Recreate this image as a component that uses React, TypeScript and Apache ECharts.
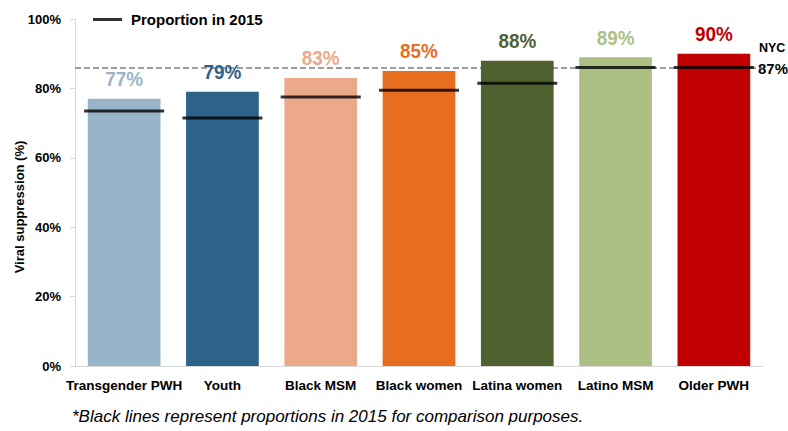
import React, { useEffect, useRef } from "react";
import * as echarts from "echarts";

const categories = ["Transgender PWH", "Youth", "Black MSM", "Black women", "Latina women", "Latino MSM", "Older PWH"];
const values2023 = [77, 79, 83, 85, 88, 89, 90];
const values2015 = [73.5, 71.5, 77.5, 79.5, 81.5, 86, 86];
const barColors = ["#98b4c8", "#2e6389", "#eca98a", "#e76e1e", "#4f612e", "#adc084", "#c00000"];
const nycValue = 86;
const nycLabelTop = "NYC";
const nycLabelValue = "87%";
const legendName = "Proportion in 2015";
const yAxisTitle = "Viral suppression (%)";
const footnote = "*Black lines represent proportions in 2015 for comparison purposes.";

const SANS = "'Liberation Sans', Arial, sans-serif";

export default function App() {
  const ref = useRef<HTMLDivElement>(null);
  useEffect(() => {
    if (!ref.current) return;
    const chart = echarts.init(ref.current, null, { renderer: "svg" });
    chart.setOption({
      animation: false,
      grid: { left: 75, right: 25, top: 19, bottom: 65 },
      legend: {
        left: 88,
        top: 7,
        itemWidth: 29,
        itemHeight: 3,
        data: [{ name: legendName, icon: "rect" }],
        textStyle: { fontFamily: SANS, fontWeight: "bold", fontSize: 15, color: "#000", padding: [0, 0, 0, 4] },
      },
      xAxis: {
        type: "category",
        data: categories,
        axisLine: { lineStyle: { color: "#d9d9d9", width: 1 } },
        axisTick: { show: false },
        axisLabel: { interval: 0, margin: 12, fontFamily: SANS, fontWeight: "bold", fontSize: 13.5, color: "#000" },
      },
      yAxis: {
        type: "value",
        min: 0,
        max: 100,
        interval: 20,
        axisLine: { show: true, lineStyle: { color: "#d9d9d9" } },
        axisTick: { show: true, length: 5, lineStyle: { color: "#d9d9d9" } },
        splitLine: { show: false },
        axisLabel: { formatter: "{value}%", margin: 14, fontFamily: SANS, fontWeight: "bold", fontSize: 13, color: "#000" },
      },
      graphic: [
        {
          type: "text",
          x: 19,
          y: 207,
          rotation: Math.PI / 2,
          style: { text: yAxisTitle, fontFamily: SANS, fontWeight: "bold", fontSize: 13, fill: "#000", align: "center", verticalAlign: "middle" },
        },
        {
          type: "text",
          x: 72,
          y: 416,
          style: { text: footnote, fontFamily: SANS, fontStyle: "italic", fontSize: 17, fill: "#000", align: "left", verticalAlign: "middle" },
        },
        {
          type: "text",
          x: 759,
          y: 48,
          style: { text: nycLabelTop, fontFamily: SANS, fontWeight: "bold", fontSize: 12.5, fill: "#000", align: "left", verticalAlign: "middle" },
        },
        {
          type: "text",
          x: 758,
          y: 68,
          style: { text: nycLabelValue, fontFamily: SANS, fontWeight: "bold", fontSize: 15, fill: "#000", align: "left", verticalAlign: "middle" },
        },
      ],
      series: [
        {
          type: "line",
          data: [],
          z: 1,
          markLine: {
            silent: true,
            symbol: "none",
            z: 1,
            lineStyle: { type: "dashed", color: "#7f7f7f", width: 1.5 },
            label: { show: false },
            data: [{ yAxis: nycValue }],
          },
        },
        {
          type: "bar",
          z: 2,
          barWidth: "74%",
          data: values2023.map((v, i) => ({ value: v, itemStyle: { color: barColors[i] } })),
        },
        {
          type: "custom",
          z: 4,
          silent: true,
          data: values2023.map((v, i) => [i, v]),
          renderItem: (params: any, api: any) => {
            const pt = api.coord([api.value(0), api.value(1)]);
            return {
              type: "text",
              x: pt[0],
              y: pt[1] - 20,
              scaleX: 0.9,
              style: {
                text: api.value(1) + "%",
                fill: barColors[params.dataIndex],
                fontFamily: SANS,
                fontWeight: "bold",
                fontSize: 21,
                align: "center",
                verticalAlign: "middle",
              },
            };
          },
        },
        {
          type: "scatter",
          name: legendName,
          z: 3,
          symbol: "rect",
          symbolSize: [80, 3],
          itemStyle: { color: "#000" },
          data: values2015,
        },
      ],
    });
    return () => chart.dispose();
  }, []);
  return <div ref={ref} style={{ position: "absolute", left: 0, top: 0, width: 788, height: 431 }} />;
}
